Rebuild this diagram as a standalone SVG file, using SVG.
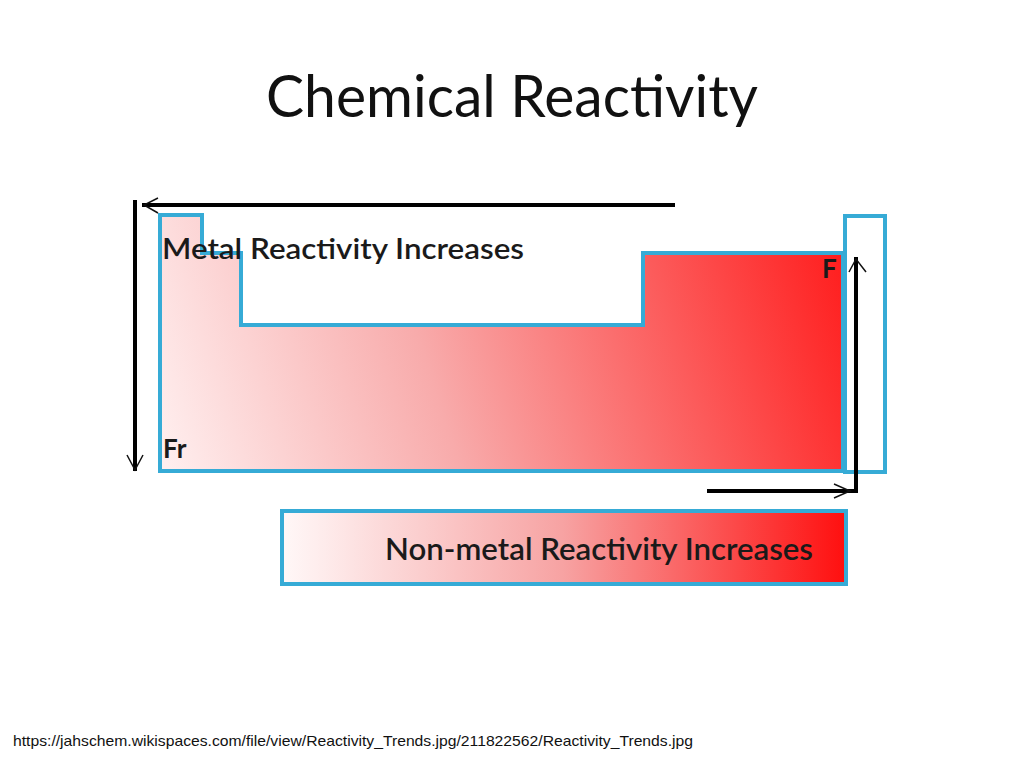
<svg xmlns="http://www.w3.org/2000/svg" width="1024" height="768" viewBox="0 0 1024 768">
<defs>
<linearGradient id="gMain" gradientUnits="userSpaceOnUse" x1="160" y1="471" x2="843" y2="253">
<stop offset="0" stop-color="#fff0f0"/>
<stop offset="0.4" stop-color="#f8abab"/>
<stop offset="1" stop-color="#ff1e1e"/>
</linearGradient>
<linearGradient id="gBar" gradientUnits="userSpaceOnUse" x1="282" y1="0" x2="846" y2="0">
<stop offset="0" stop-color="#fff8f8"/>
<stop offset="0.5" stop-color="#f7a2a2"/>
<stop offset="1" stop-color="#ff0f0f"/>
</linearGradient>
<style>
.blue{stroke:#36abd6;stroke-width:4;stroke-linejoin:miter}
.arr{stroke:#000;stroke-width:4;fill:none}
.chev{stroke:#111;stroke-width:1.5;fill:none}
.lbl{font-family:Lato,"Open Sans","Liberation Sans",sans-serif;fill:#1a1a1a;font-weight:600}
.sym{font-family:Lato,"Open Sans","Liberation Sans",sans-serif;fill:#1a1a1a;font-weight:bold;font-size:26px}
</style>
</defs>
<rect width="1024" height="768" fill="#fff"/>
<text x="512" y="117" text-anchor="middle" font-family="Lato,'Open Sans','Liberation Sans',sans-serif" font-size="58" fill="#111" textLength="492" lengthAdjust="spacingAndGlyphs">Chemical Reactivity</text>

<g id="table">
<path class="blue" fill="url(#gMain)" d="M160,215 H202 V253 H241 V325 H643 V253 H843 V471 H160 Z"/>
<rect class="blue" fill="none" x="845" y="216" width="40" height="256"/>
</g>

<g id="connectors">
<line class="arr" x1="142" y1="205" x2="675" y2="205"/>
<polyline class="chev" points="158,198 144,205 158,213"/>
<line class="arr" x1="135" y1="200" x2="135" y2="471"/>
<polyline class="chev" points="127,455 135,470 143,455"/>
<line class="arr" x1="856" y1="257" x2="856" y2="493"/>
<polyline class="chev" points="849,272 856,259 866,272"/>
<line class="arr" x1="707" y1="491" x2="854" y2="491"/>
<polyline class="chev" points="834,484 850,491 834,498"/>
</g>

<g id="labels">
<text class="lbl" x="162" y="259" font-size="29" textLength="362" lengthAdjust="spacingAndGlyphs">Metal Reactivity Increases</text>
<text class="sym" x="822" y="278">F</text>
<text class="sym" x="163" y="458">Fr</text>
</g>

<g id="nonmetal">
<rect class="blue" fill="url(#gBar)" x="282" y="511" width="564" height="73"/>
<text class="lbl" x="385" y="560" font-size="30" textLength="428" lengthAdjust="spacingAndGlyphs">Non-metal Reactivity Increases</text>
</g>

<text x="13" y="746" font-family="'Liberation Sans',Arial,sans-serif" font-size="15" fill="#111" textLength="680" lengthAdjust="spacingAndGlyphs">https://jahschem.wikispaces.com/file/view/Reactivity_Trends.jpg/211822562/Reactivity_Trends.jpg</text>
</svg>
